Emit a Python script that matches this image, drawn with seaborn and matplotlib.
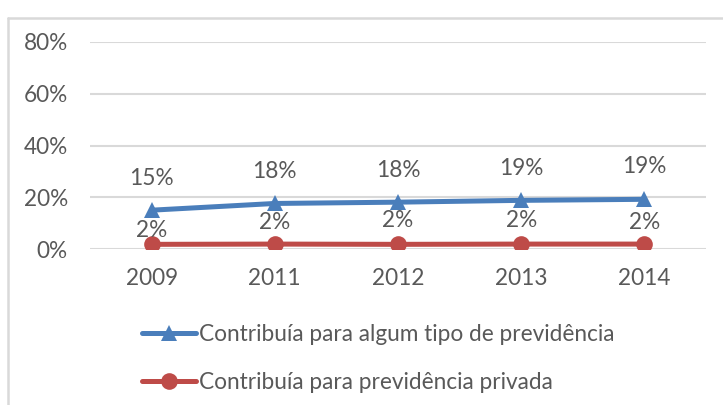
import matplotlib
matplotlib.use("Agg")
import matplotlib.pyplot as plt
from matplotlib.lines import Line2D
import seaborn as sns
import pandas as pd

years = ["2009", "2011", "2012", "2013", "2014"]
any_pension = [0.150, 0.176, 0.181, 0.188, 0.192]
private_pension = [0.018, 0.019, 0.018, 0.019, 0.019]
series_names = ["Contribuía para algum tipo de previdência",
                "Contribuía para previdência privada"]
y_ticks = [0.0, 0.2, 0.4, 0.6, 0.8]

BLUE = "#4a7ebb"
RED = "#be4b48"
TEXT = "#595959"
GRID = "#d9d9d9"
FS = 16.3

sns.set_theme(style="white")
plt.rcParams["font.family"] = ["Lato", "DejaVu Sans"]

df = pd.DataFrame({
    "ano": years * 2,
    "valor": any_pension + private_pension,
    "serie": [series_names[0]] * len(years) + [series_names[1]] * len(years),
})

fig = plt.figure(figsize=(7.23, 4.05), dpi=100)
ax = fig.add_axes([90 / 723, 1 - 249 / 405, 616 / 723, 207 / 405])

sns.lineplot(data=df, x="ano", y="valor", hue="serie", style="serie",
             palette=[BLUE, RED], markers=["^", "o"], dashes=False,
             linewidth=3.6, markersize=12, markeredgewidth=0,
             legend=False, ax=ax, sort=False)

ax.set_xlim(-0.5, len(years) - 0.5)
ax.set_ylim(0, 0.8)
ax.set_yticks(y_ticks)
ax.set_yticklabels([f"{int(round(t * 100))}%" for t in y_ticks])
ax.set_xlabel("")
ax.set_ylabel("")
ax.grid(axis="y", color=GRID, linewidth=1.5)
ax.grid(axis="x", visible=False)
ax.set_axisbelow(True)
for s in ax.spines.values():
    s.set_visible(False)
ax.tick_params(axis="both", length=0, labelsize=FS, colors=TEXT)
ax.tick_params(axis="y", pad=16)
ax.tick_params(axis="x", pad=14)

# data labels
blue_offsets = [32, 32, 32, 32, 33]
red_offsets = [14, 22, 24, 24, 22]
for i, v in enumerate(any_pension):
    ax.annotate(f"{round(v * 100):.0f}%", (i, v), xytext=(0, blue_offsets[i]),
                textcoords="offset pixels", ha="center", va="center",
                fontsize=FS, color=TEXT)
for i, v in enumerate(private_pension):
    ax.annotate(f"{round(v * 100):.0f}%", (i, v), xytext=(0, red_offsets[i]),
                textcoords="offset pixels", ha="center", va="center",
                fontsize=FS, color=TEXT)

handles = [
    Line2D([], [], color=BLUE, lw=3.6, marker="^", markersize=12, markeredgewidth=0),
    Line2D([], [], color=RED, lw=3.6, marker="o", markersize=12, markeredgewidth=0),
]
leg = fig.legend(handles, series_names, loc="upper left",
                 bbox_to_anchor=(142 / 723, 1 - 324 / 405), frameon=False,
                 fontsize=FS, handlelength=2.4, handletextpad=0.13,
                 labelspacing=1.2, borderaxespad=0, borderpad=0)
for t in leg.get_texts():
    t.set_color(TEXT)

# chart-area frame
fig.add_artist(Line2D([8 / 723, 1], [1 - 18 / 405] * 2, transform=fig.transFigure,
                      color=GRID, lw=1.8))
fig.add_artist(Line2D([8 / 723] * 2, [0, 1 - 18 / 405], transform=fig.transFigure,
                      color=GRID, lw=1.8))

fig.savefig("out.png", dpi=100)
